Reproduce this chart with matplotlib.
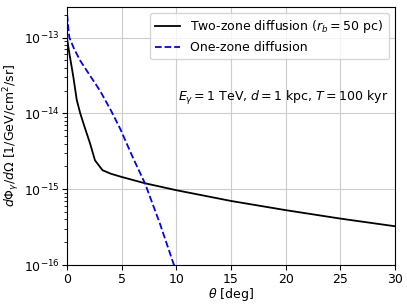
import numpy as np
import matplotlib
matplotlib.use("Agg")
import matplotlib.pyplot as plt
from matplotlib.ticker import LogLocator, NullFormatter

plt.rcParams['font.size'] = 9

# valores (theta em graus, fluxo em 1/GeV/cm^2/sr)
theta_two = [0.0, 0.2, 0.4, 0.57, 0.88, 1.2, 1.6, 2.1, 2.55, 3.24, 4.0, 5.0,
             7.1, 10.0, 15.0, 20.0, 25.0, 30.0]
flux_two = [9.5e-14, 6.2e-14, 4.2e-14, 3.0e-14, 1.5e-14, 1.0e-14, 6.6e-15,
            4.0e-15, 2.4e-15, 1.78e-15, 1.6e-15, 1.45e-15, 1.2e-15, 9.7e-16,
            7.0e-16, 5.3e-16, 4.1e-16, 3.25e-16]

theta_one = [0.0, 0.1, 0.2, 0.6, 1.18, 2.0, 3.0, 4.0, 4.85, 6.0, 7.14, 8.5,
             9.73, 10.0]
flux_one = [2.0e-13, 1.35e-13, 1.0e-13, 7.3e-14, 5.0e-14, 3.3e-14, 2.0e-14,
            1.1e-14, 6.3e-15, 2.65e-15, 1.18e-15, 3.5e-16, 1.05e-16, 8.5e-17]

yticks = [1e-16, 1e-15, 1e-14, 1e-13]

fig = plt.figure(figsize=(4.07, 3.05), dpi=100)
ax = fig.add_axes([0.165, 0.131, 0.805, 0.847])

ax.plot(theta_two, flux_two, 'k-', lw=1.3,
        label=r'Two-zone diffusion ($r_b = 50$ pc)')
ax.plot(theta_one, flux_one, 'b--', lw=1.3, label='One-zone diffusion')

ax.set_yscale('log')
ax.set_xlim(0, 30)
ax.set_ylim(1e-16, 2.55e-13)
ax.set_xticks(np.arange(0, 31, 5))
ax.set_yticks(yticks)
ax.yaxis.set_minor_locator(LogLocator(base=10, subs=np.arange(2, 10)))
ax.yaxis.set_minor_formatter(NullFormatter())
ax.tick_params(pad=2)
ax.grid(True, color='#cccccc')
ax.set_xlabel(r'$\theta$ [deg]', labelpad=0)
ax.set_ylabel(r'$d\Phi_\gamma/d\Omega$ [1/GeV/cm$^2$/sr]', labelpad=1)
ax.legend(loc='upper right', fontsize=9)
ax.text(0.98, 0.645, r'$E_\gamma = 1$ TeV, $d = 1$ kpc, $T = 100$ kyr',
        transform=ax.transAxes, ha='right', va='center', fontsize=9)

fig.savefig('out.png', dpi=100)
